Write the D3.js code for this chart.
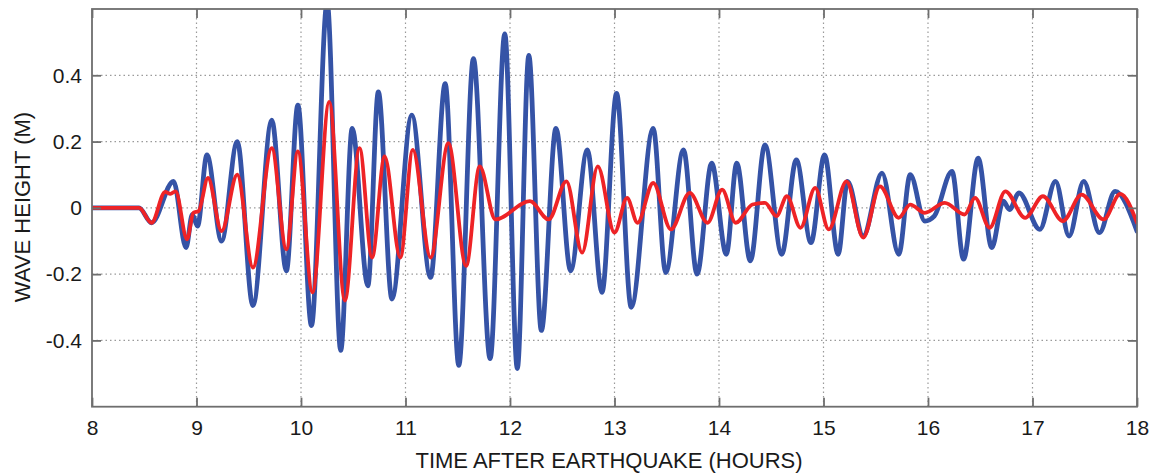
<!DOCTYPE html>
<html>
<head>
<meta charset="utf-8">
<script src="https://cdn.jsdelivr.net/npm/d3@7"></script>
<style>
  html, body { margin: 0; padding: 0; background: #fff; }
  svg { display: block; font-family: "Liberation Sans", Arial, Helvetica, sans-serif; }
</style>
</head>
<body>
<svg id="chart" width="1154" height="475"></svg>
<script>
// ---- data ----
const xTicks = [8, 9, 10, 11, 12, 13, 14, 15, 16, 17, 18];
const yTicks = [-0.4, -0.2, 0, 0.2, 0.4];
const yTickLabels = ["-0.4", "-0.2", "0", "0.2", "0.4"];

// blue series: time (hours) and wave height (m) at turning points
const blueHours = [8.00, 8.45, 8.57, 8.78, 8.90, 8.96, 9.01, 9.10, 9.24, 9.39, 9.54, 9.72, 9.86, 9.97,
  10.10, 10.25, 10.38, 10.49, 10.64, 10.74, 10.87, 11.06, 11.24, 11.38, 11.51, 11.65, 11.81, 11.95,
  12.07, 12.18, 12.30, 12.44, 12.58, 12.74, 12.88, 13.02, 13.16, 13.37, 13.49, 13.66, 13.79, 13.93,
  14.07, 14.17, 14.30, 14.44, 14.60, 14.74, 14.88, 15.01, 15.14, 15.23, 15.38, 15.56, 15.72, 15.83,
  15.97, 16.06, 16.23, 16.34, 16.48, 16.61, 16.72, 16.78, 16.87, 17.07, 17.22, 17.35, 17.49, 17.64,
  17.79, 18.00];
const blueHeights = [0, 0, -0.045, 0.08, -0.12, -0.02, -0.055, 0.16, -0.10, 0.20, -0.295, 0.265, -0.19, 0.31,
  -0.355, 0.62, -0.43, 0.24, -0.235, 0.35, -0.275, 0.28, -0.21, 0.375, -0.475, 0.45, -0.455, 0.525,
  -0.485, 0.46, -0.37, 0.24, -0.19, 0.175, -0.255, 0.345, -0.30, 0.24, -0.195, 0.175, -0.20, 0.135,
  -0.14, 0.135, -0.16, 0.19, -0.14, 0.145, -0.105, 0.16, -0.14, 0.08, -0.085, 0.105, -0.14, 0.10,
  -0.04, -0.025, 0.11, -0.155, 0.15, -0.12, 0.02, -0.005, 0.045, -0.065, 0.08, -0.085, 0.08, -0.075,
  0.05, -0.07];

// red series
const redHours = [8.00, 8.45, 8.57, 8.70, 8.75, 8.80, 8.91, 8.97, 9.02, 9.11, 9.24, 9.39, 9.54, 9.72,
  9.86, 9.97, 10.11, 10.27, 10.42, 10.56, 10.68, 10.80, 10.95, 11.07, 11.24, 11.41, 11.58, 11.71,
  11.86, 12.19, 12.37, 12.54, 12.69, 12.84, 13.00, 13.12, 13.22, 13.37, 13.54, 13.72, 13.89, 14.03,
  14.16, 14.32, 14.44, 14.55, 14.65, 14.78, 14.92, 15.05, 15.22, 15.38, 15.54, 15.72, 15.83, 15.97,
  16.16, 16.35, 16.45, 16.59, 16.74, 16.93, 17.10, 17.29, 17.47, 17.68, 17.84, 18.00];
const redHeights = [0, 0, -0.045, 0.048, 0.042, 0.05, -0.095, -0.015, -0.01, 0.09, -0.07, 0.10, -0.18, 0.18,
  -0.125, 0.17, -0.255, 0.32, -0.28, 0.18, -0.15, 0.155, -0.15, 0.175, -0.15, 0.195, -0.175, 0.125,
  -0.035, 0.02, -0.035, 0.08, -0.135, 0.125, -0.075, 0.03, -0.045, 0.075, -0.065, 0.045, -0.045, 0.055,
  -0.045, 0.01, 0.015, -0.025, 0.035, -0.06, 0.06, -0.065, 0.08, -0.09, 0.065, -0.03, 0.01, -0.015,
  0.015, -0.02, 0.03, -0.06, 0.05, -0.03, 0.035, -0.04, 0.04, -0.035, 0.042, -0.045];

const xTitle = "TIME AFTER EARTHQUAKE (HOURS)";
const yTitle = "WAVE HEIGHT (M)";

// ---- layout ----
const mLeft = 92, mRight = 1137, mTop = 9, mBottom = 406.7;
const svg = d3.select("#chart");

const x = d3.scaleLinear().domain([8, 18]).range([mLeft, mRight]);
const y = d3.scaleLinear().domain([-0.6, 0.6]).range([mBottom, mTop]);

svg.append("defs").append("clipPath").attr("id", "plotclip")
  .append("rect").attr("x", mLeft).attr("y", mTop).attr("width", mRight - mLeft).attr("height", mBottom - mTop);

// grid
const grid = svg.append("g");
grid.selectAll("line.vx").data(xTicks.slice(1, -1)).join("line")
  .attr("x1", d => x(d)).attr("x2", d => x(d)).attr("y1", mTop).attr("y2", mBottom)
  .attr("stroke", "#9a9a9a").attr("stroke-width", 1.2).attr("stroke-dasharray", "1.5,3");
grid.selectAll("line.hy").data(yTicks).join("line")
  .attr("x1", mLeft).attr("x2", mRight).attr("y1", d => y(d)).attr("y2", d => y(d))
  .attr("stroke", "#9a9a9a").attr("stroke-width", 1.2).attr("stroke-dasharray", "1.5,3");

// series
const line = d3.line().x(d => x(d[0])).y(d => y(d[1])).curve(d3.curveMonotoneX);
const blue = blueHours.map((t, i) => [t, blueHeights[i]]);
const red = redHours.map((t, i) => [t, redHeights[i]]);
const plot = svg.append("g").attr("clip-path", "url(#plotclip)");
plot.append("path").datum(blue).attr("d", line)
  .attr("fill", "none").attr("stroke", "#3553a6").attr("stroke-width", 4.8)
  .attr("stroke-linejoin", "round").attr("stroke-linecap", "round");
plot.append("path").datum(red).attr("d", line)
  .attr("fill", "none").attr("stroke", "#ee2326").attr("stroke-width", 3.8)
  .attr("stroke-linejoin", "round").attr("stroke-linecap", "round");

// axes (MATLAB style box with inward ticks)
const tickLen = 9;
const axisColor = "#6e6e6e";
const axB = svg.append("g").attr("transform", `translate(0,${mBottom})`)
  .call(d3.axisBottom(x).tickValues(xTicks).tickSizeInner(-tickLen).tickSizeOuter(0).tickPadding(13).tickFormat(d3.format("d")));
const axT = svg.append("g").attr("transform", `translate(0,${mTop})`)
  .call(d3.axisTop(x).tickValues(xTicks).tickSizeInner(-tickLen).tickSizeOuter(0).tickFormat(""));
const axL = svg.append("g").attr("transform", `translate(${mLeft},0)`)
  .call(d3.axisLeft(y).tickValues(yTicks).tickSizeInner(-tickLen).tickSizeOuter(0).tickPadding(10)
    .tickFormat((d, i) => yTickLabels[i]));
const axR = svg.append("g").attr("transform", `translate(${mRight},0)`)
  .call(d3.axisRight(y).tickValues(yTicks).tickSizeInner(-tickLen).tickSizeOuter(0).tickFormat(""));

[axB, axT, axL, axR].forEach(a => {
  a.select(".domain").remove();
  a.selectAll(".tick line").attr("stroke", axisColor).attr("stroke-width", 1.8);
  a.selectAll("text").attr("fill", "#1a1a1a").style("font-size", "21px")
    .style("font-family", "'Liberation Sans', Arial, sans-serif");
});
axB.selectAll("text").attr("dy", "0.71em");

svg.append("rect").attr("x", mLeft).attr("y", mTop).attr("width", mRight - mLeft).attr("height", mBottom - mTop)
  .attr("fill", "none").attr("stroke", axisColor).attr("stroke-width", 1.8);

// titles
svg.append("text").attr("x", 609).attr("y", 468).attr("text-anchor", "middle")
  .style("font-size", "22px").attr("fill", "#1a1a1a").text(xTitle);
svg.append("text").attr("transform", "translate(30,207) rotate(-90)").attr("text-anchor", "middle")
  .style("font-size", "22px").attr("fill", "#1a1a1a").text(yTitle);
</script>
</body>
</html>
